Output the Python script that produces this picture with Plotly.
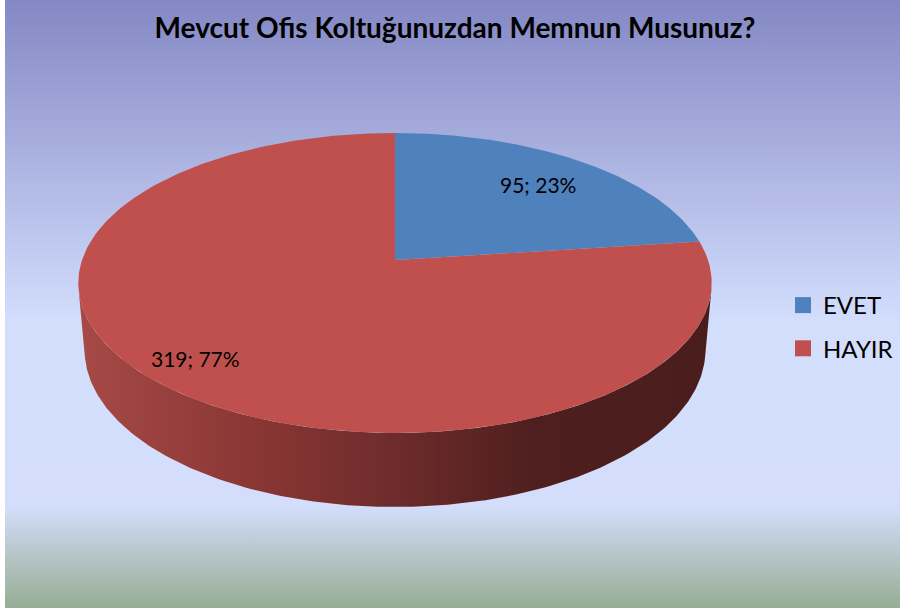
import numpy as np
import plotly.graph_objects as go

# ---------------- data ----------------
categories = ["EVET", "HAYIR"]
values = [95, 319]
title_text = "Mevcut Ofis Koltuğunuzdan Memnun Musunuz?"

# ---------------- style / layout ----------------
W, H = 901, 611
TOP_COLORS = ["#4F81BD", "#C0504D"]
SIDE_SCALES = [
    [[0, "#5f86b8"], [0.5, "#37577f"], [1, "#1f3350"]],
    [[0, "#a64a46"], [0.25, "#8d3836"], [0.5, "#6e2b2b"], [0.72, "#4f1f1f"], [1, "#4a1d1d"]],
]
LABEL_R = [0.75, 0.84]
LABEL_DT = [0.0, 0.04]
FONT = "Lato, 'Open Sans', sans-serif"

# perspective camera for the 3D pie (pixel space)
CX, CY = 395.0, 260.0
F = 1809.0
DIST = 5.78
PHI = np.arcsin(146.5 / 313.0)
THICK = 0.2445


def project(t, r, z):
    X = r * np.sin(t)
    Y = -r * np.cos(t)
    depth = DIST - (Y * np.cos(PHI) + z * np.sin(PHI))
    x = CX + F * X / depth
    y = CY - F * (z * np.cos(PHI) - Y * np.sin(PHI)) / depth
    return x, y


total = float(sum(values))
fracs = [v / total for v in values]
edges = np.concatenate([[0.0], np.cumsum(fracs)]) * 2 * np.pi

fig = go.Figure()

# background with vertical gradient
fig.add_trace(go.Scatter(
    x=[5, 900, 900, 5, 5], y=[0, 0, 608, 608, 0],
    mode="lines", line=dict(width=0), fill="toself",
    fillgradient=dict(type="vertical", start=0, stop=608,
                      colorscale=[[0, "#8488c4"], [0.53, "#d3defd"],
                                  [0.83, "#d4defc"], [1, "#97ad94"]]),
    hoverinfo="skip", showlegend=False))

# visible side range
tv = np.arccos(-1.0 / (DIST * np.cos(PHI)))
vis_a, vis_b = tv, 2 * np.pi - tv

for i, (t0, t1) in enumerate(zip(edges[:-1], edges[1:])):
    a, b = max(t0, vis_a), min(t1, vis_b)
    if b <= a:
        continue
    ts = np.linspace(a, b, 200)
    xt, yt = project(ts, 1.0, 0.0)
    xb, yb = project(ts[::-1], 1.0, -THICK)
    xs = np.concatenate([xt, xb, xt[:1]])
    ys = np.concatenate([yt, yb, yt[:1]])
    fig.add_trace(go.Scatter(
        x=xs, y=ys, mode="lines", line=dict(width=0), fill="toself",
        fillgradient=dict(type="horizontal", colorscale=SIDE_SCALES[i]),
        hoverinfo="skip", showlegend=False))

# top faces
for i, (t0, t1) in enumerate(zip(edges[:-1], edges[1:])):
    ts = np.linspace(t0, t1, 300)
    xa, ya = project(ts, 1.0, 0.0)
    x0, y0 = project(0.0, 0.0, 0.0)
    xs = np.concatenate([[x0], xa, [x0]])
    ys = np.concatenate([[y0], ya, [y0]])
    fig.add_trace(go.Scatter(
        x=xs, y=ys, mode="lines", line=dict(width=0, color=TOP_COLORS[i]),
        fill="toself", fillcolor=TOP_COLORS[i],
        name=categories[i], hoverinfo="name", showlegend=False))

# legend entries
for i, c in enumerate(categories):
    fig.add_trace(go.Scatter(
        x=[None], y=[None], mode="markers", name=c, legendgroup=c,
        marker=dict(symbol="square", size=16, color=TOP_COLORS[i])))

# data labels
for i, (t0, t1) in enumerate(zip(edges[:-1], edges[1:])):
    tm = (t0 + t1) / 2 + LABEL_DT[i]
    lx, ly = project(tm, LABEL_R[i], 0.0)
    pct = round(100 * fracs[i])
    fig.add_annotation(x=float(lx), y=float(ly), text=f"{values[i]}; {pct}%",
                       showarrow=False, xanchor="center", yanchor="middle",
                       font=dict(family=FONT, size=21, color="#000000"))

fig.update_layout(
    width=W, height=H,
    margin=dict(l=0, r=0, t=0, b=0),
    paper_bgcolor="#ffffff", plot_bgcolor="rgba(0,0,0,0)",
    xaxis=dict(range=[0, W], visible=False, fixedrange=True),
    yaxis=dict(range=[H, 0], visible=False, fixedrange=True),
    title=dict(text=f"<b>{title_text}</b>", x=455 / W, xanchor="center",
               y=1 - 28 / H, yanchor="middle",
               font=dict(family=FONT, size=28, color="#000000")),
    legend=dict(x=783 / W, y=1 - 283 / H, xanchor="left", yanchor="top",
                bgcolor="rgba(0,0,0,0)", tracegroupgap=9,
                font=dict(family=FONT, size=24, color="#000000")),
    showlegend=True,
)

fig.write_html(
    "out.html",
    config={"displayModeBar": False},
    post_script="document.body.style.margin='0';document.body.style.overflow='hidden';",
)
